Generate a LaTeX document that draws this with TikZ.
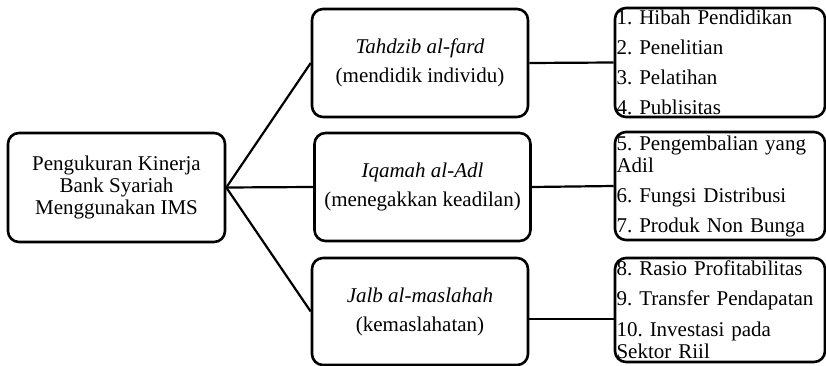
\documentclass[tikz,border=0pt]{standalone}
\usepackage{fontspec}
\setmainfont{Liberation Serif}
\frenchspacing

\begin{document}
\begin{tikzpicture}[
  x=1pt,y=-1pt,
  font=\fontsize{21}{22}\selectfont,
  box/.style={draw,line width=2.6pt,rounded corners=11pt,align=center,inner sep=0pt},
  aspect/.style={box,minimum width=216pt,minimum height=108pt},
  list/.style={box,align=left,text width=207pt,inner xsep=1.5pt},
  link/.style={line width=2.2pt}]
\useasboundingbox (0,0) rectangle (826,366);
% root
\node[box,minimum width=217pt,minimum height=109pt] (ims) at (116.5,187.5)
  {Pengukuran Kinerja\\Bank Syariah\\Menggunakan IMS};
% three aspects
\node[aspect] (fard) at (420,63) {\textit{Tahdzib al-fard}\\[7pt](mendidik individu)};
\node[aspect] (adl) at (422.5,187) {\textit{Iqamah al-Adl}\\[7pt](menegakkan keadilan)};
\node[aspect,minimum height=107pt] (maslahah) at (420,311.5) {\textit{Jalb al-maslahah}\\[7pt](kemaslahatan)};
% indicators
\node[list,minimum height=109pt] (elemA) at (720,62.5)
  {1. Hibah Pendidikan\\[8pt]2. Penelitian\\[8pt]3. Pelatihan\\[8pt]4. Publisitas};
\node[list,minimum height=108pt] (elemB) at (720,186)
  {5. Pengembalian yang\\Adil\\[8pt]6. Fungsi Distribusi\\[8pt]7. Produk Non Bunga};
\node[list,minimum height=104pt] (elemC) at (720,310)
  {8. Rasio Profitabilitas\\[8pt]9. Transfer Pendapatan\\[9pt]10. Investasi pada\\Sektor Riil};
\draw[link] (ims.east) -- (fard.west);
\draw[link] (ims.east) -- (adl.west);
\draw[link] (ims.east) -- (maslahah.west);
\draw[link] (fard.east) -- (elemA.west);
\draw[link] (adl.east) -- (elemB.west);
\draw[link] ([yshift=-7.5pt]maslahah.east) -- ([yshift=-7.5pt]maslahah.east -| elemC.west);
\end{tikzpicture}
\end{document}
